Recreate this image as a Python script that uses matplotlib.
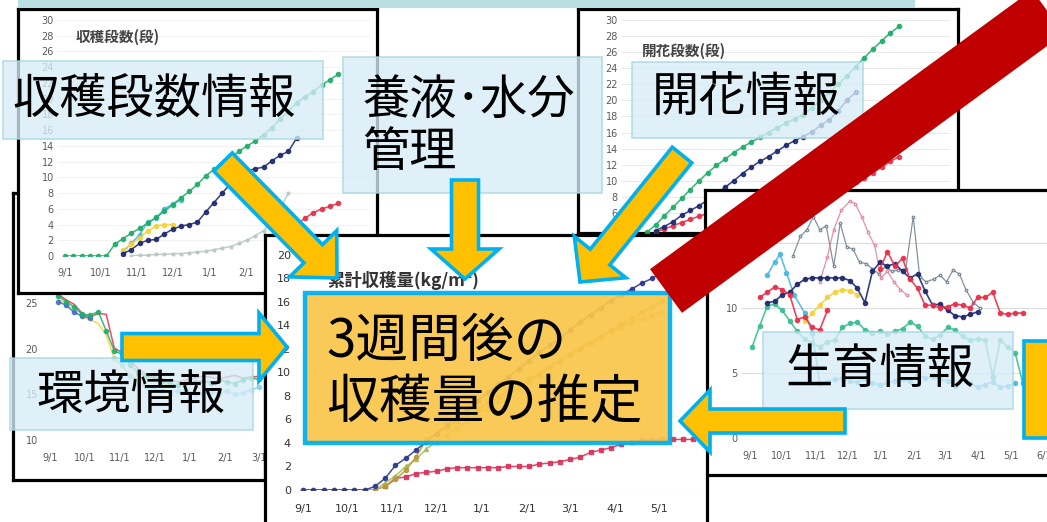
import numpy as np
import pandas as pd
import matplotlib
matplotlib.use("Agg")
import matplotlib.pyplot as plt
from matplotlib.patches import Rectangle, FancyArrow

W, H = 1047, 522
JP = ["Noto Sans CJK JP", "DejaVu Sans"]
plt.rcParams["font.family"] = JP

# ─────────────────────────────────────────────────────────────────────────────
# Data (weekly records from 9/1; each series = first week index + values)
# ─────────────────────────────────────────────────────────────────────────────

SEASON_START = "2015-09-01"
MONTH_DATES = ["2015-09-01", "2015-10-01", "2015-11-01", "2015-12-01",
               "2016-01-01", "2016-02-01", "2016-03-01", "2016-04-01",
               "2016-05-01", "2016-06-01"]
MONTH_LABELS = ["9/1", "10/1", "11/1", "12/1", "1/1", "2/1", "3/1",
                "4/1", "5/1", "6/1"]

# harvested truss count (段)
harvest_green = (0, [0, 0, 0, 0, 0, 0, 1.5, 2.2, 2.9, 3.5, 4.2, 4.9, 5.7,
                     6.5, 7.4, 8.2, 9.1, 10.2, 11.0, 11.7, 12.4, 13.3, 14.0,
                     14.6, 15.4, 16.3, 17.4, 18.4, 19.5, 20.2, 20.9, 21.7,
                     22.4, 23.1])
harvest_navy = (7, [0.3, 0.8, 1.6, 2.0, 2.1, 2.8, 3.4, 3.8, 4.0, 4.3, 5.6,
                    6.8, 8.0, 9.2, 10.0, 10.8, 11.1, 11.3, 12.1, 12.8, 13.3,
                    15.0])
harvest_yellow = (7, [0.8, 1.5, 2.3, 3.2, 3.8, 4.0, 4.0])
harvest_cyan = (7, [0.5, 1.6, 2.7, 4.3, 4.8, 6.0, 6.6, 7.1])
harvest_pale = (8, [0.0, 0.1, 0.1, 0.2, 0.2, 0.3, 0.3, 0.4, 0.5, 0.6, 0.8,
                    1.0, 1.2, 1.6, 2.0, 2.6, 3.2, 4.5, 6.0, 8.0])
harvest_red = (26, [2.5, 3.3, 4.0, 4.8, 5.5, 6.0, 6.3, 6.7])

# flowering truss count (段)
flower_green = (2, [3.6, 4.5, 5.6, 6.7, 7.8, 8.9, 10.0, 11.0, 11.9, 12.7,
                    13.5, 14.2, 14.8, 15.4, 16.0, 16.6, 17.2, 17.7, 18.2,
                    19.1, 20.0, 21.0, 22.0, 23.0, 24.2, 25.3, 26.4, 27.4,
                    28.4, 29.2])
flower_navy = (3, [3.8, 4.3, 4.9, 5.7, 6.3, 6.9, 7.6, 8.3, 9.2, 10.0, 10.9,
                   11.7, 12.4, 13.0, 13.7, 14.4, 15.0, 15.5, 16.1, 16.9,
                   17.6, 18.7, 20.0, 21.0])
flower_red = (3, [3.6, 4.0, 4.4, 4.8, 5.2, 5.6, 5.9, 6.2, 6.5, 6.8, 7.0, 7.2,
                  7.4, 7.6, 7.8, 8.0, 8.2, 8.4, 8.6, 8.8, 9.0, 9.3, 9.6, 9.9,
                  10.3, 11.0, 11.7, 12.4, 13.0])

# growth readings (irregular sampling days from 9/1)
growth_red_days = [9, 16, 23, 30, 37, 44, 51, 58, 65, 72, 79,
                   121, 128, 135, 142, 149, 156, 163, 170, 177, 184, 191,
                   198, 205, 212, 219, 226, 233, 240, 247, 254]
growth_red = [10.8, 11.2, 11.6, 11.4, 11.0, 9.1, 9.3, 8.5, 8.3, 9.8, np.nan,
              13.0, 14.3, 13.2, 13.8, 12.2, 11.5, 10.2, 10.2, 10.0, 10.1,
              10.3, 10.2, 10.0, 10.8, 10.8, 11.2, 9.6, 9.5, 9.6, 9.6]
growth_navy_days = [16, 23, 30, 37, 44, 51, 58, 65, 72, 79, 86, 93, 100, 107,
                    114, 121, 128, 135, 142, 149, 156, 163, 170, 177, 184,
                    191, 198, 205, 212]
growth_navy = [10.4, 10.5, 11.0, 11.2, 11.8, 12.2, 12.3, 12.3, 12.3, 12.3,
               12.3, 12.1, 11.5, 10.4, 12.8, 13.5, 13.2, 13.4, 12.8, 12.3,
               12.6, 11.3, 10.2, 10.3, 9.8, 9.4, 9.3, 9.5, 9.7]
growth_teal_days = [2, 9, 16, 23, 30, 37, 44, 51, 58, 65, 72, 79, 86, 93, 100,
                    107, 114, 121, 128, 135, 142, 149, 156, 163, 170, 177,
                    184, 191, 198, 205, 212, 219, 226, 233, 240, 247, 254]
growth_teal = [7.0, 8.6, 10.1, 10.3, 9.8, 9.0, 8.2, 7.6, 7.3, 7.0, 7.4, 7.5,
               8.5, 8.8, 8.9, 8.3, 8.1, 8.2, 8.0, 8.2, 8.4, 8.9, 8.6, 7.8,
               7.6, 7.9, 8.5, 8.3, 7.8, 7.5, 7.6, 7.5, 4.7, 7.5, 7.0, 6.5,
               4.2]
growth_cyan_days = [16, 23, 28, 34, 41, 51, 58, 65, 72, 79, 86, 93, 100, 107,
                    114, 121, 128, 135, 142, 149, 156, 163, 170, 177, 184,
                    191, 198, 205, 212, 219, 226, 233, 240, 247]
growth_cyan = [12.5, 13.5, 14.1, 12.7, 11.0, 9.6, 8.1, 4.2, 4.3, 4.5, 4.6,
               4.4, 4.3, 4.6, 4.2, 4.1, 4.2, 4.4, 4.5, 4.4, 4.9, 4.6, 4.7,
               4.5, 4.4, 4.0, 4.7, 4.2, 3.9, 4.1, 4.3, 3.9, 4.0, 4.2]
growth_yellow_days = [51, 58, 65, 72, 79, 86, 93, 100]
growth_yellow = [9.0, 9.6, 10.2, 10.8, 11.2, 11.4, 11.3, 11.0]
growth_pink_days = [65, 72, 78, 85, 93, 98, 104, 110, 116, 122, 128, 134, 140,
                    146]
growth_pink = [12.0, 13.9, 16.0, 17.5, 18.2, 18.0, 17.0, 15.8, 14.8, 12.3,
               12.8, 12.0, 11.4, 11.0]
growth_gray_days = [40, 47, 53, 59, 65, 71, 78, 84, 90, 96, 102, 108, 114,
                    120, 126, 132, 138, 145, 152, 158, 164, 171, 177, 183,
                    189, 195, 201, 208, 214]
growth_gray = [14.0, 15.5, 16.0, 17.0, 16.0, 16.3, 13.2, 16.5, 14.7, 14.5,
               13.5, 13.4, 13.0, 12.6, 13.2, 12.8, 12.9, 13.0, 17.0, 12.4,
               12.0, 12.2, 12.5, 12.0, 12.9, 12.6, 11.4, 10.4, 10.0]

# greenhouse temperature (℃)
env_green = (1, [25.8, 25.2, 24.6, 23.8, 23.7, 24.1, 22.0, 19.8, 19.4, 18.2,
                 17.4, 17.0, 16.8, 16.5, 16.2, 16.0, 16.3, 16.4, 16.5, 16.3,
                 16.6, 16.4, 16.2, 16.6, 16.8, 16.7])
env_red = (1, [26.0, 25.4, 24.9, 23.9, 23.5, 23.9, 23.8, 20.1, 19.6, 18.7,
               17.8, 17.2, 16.9, 16.7, 16.5, 16.4, 16.6, 16.8, 17.0, 16.9,
               16.7, 16.9, 17.1, 16.8, 16.9, 17.0])
env_yellow = (1, [25.5, 25.0, 24.2, 23.5, 23.2, 22.8, 21.5, 19.0, 18.0, 17.2,
                  16.5, 16.0, 15.8, 16.0, 16.2])
env_cyan = (8, [19.0, 18.2, 17.0, 16.2, 15.8, 15.5, 15.4, 15.3, 15.4, 15.5,
                15.0, 15.2, 15.3, 15.1, 15.4, 15.0, 15.2, 15.5, 15.8])
env_blue = (1, [25.2, 24.8, 24.0, 23.6, 23.4])

# cumulative yield (kg/m²)
yield_navy = (0, [0, 0, 0, 0, 0, 0, 0, 0.3, 1.0, 2.1, 2.7, 3.4, 4.1, 4.8, 5.5,
                  6.2, 6.9, 7.6, 8.3, 9.0, 9.6, 10.3, 11.0, 11.7, 12.3, 12.9,
                  13.6, 14.3, 14.9, 15.5, 16.1, 16.6, 17.1, 17.6, 18.0, 18.5])
yield_tan = (0, [0, 0, 0, 0, 0, 0, 0, 0, 0.3, 0.9, 1.7, 2.8, 4.3, 4.8, 5.3,
                 5.9, 6.4, 6.9, 7.4, 7.9, 8.4, 8.9, 9.4, 9.9, 10.5, 11.0, 11.5,
                 12.0, 12.5, 13.0, 13.6, 14.1, 14.6, 15.1, 15.6, 16.1])
yield_olive = (0, [0, 0, 0, 0, 0, 0, 0, 0, 0.6, 1.2, 2.0, 2.6, 3.5, 4.1, 4.7,
                   5.3, 5.9, 6.5, 7.0, 7.6, 8.1, 8.7, 9.3, 9.9, 10.5, 11.0,
                   11.6, 12.1, 12.6, 13.1, 13.5, 13.9, 14.3, 14.6, 14.9, 15.1])
yield_red = (8, [0.3, 1.0, 1.1, 1.4, 1.5, 1.6, 1.8, 1.9, 1.9, 1.9, 1.9, 1.9,
                 2.0, 2.0, 2.0, 2.2, 2.3, 2.4, 2.6, 2.8, 3.2, 3.4, 3.6, 3.9,
                 4.1, 4.25, 4.25, 4.3, 4.3, 4.3, 4.3])

# ─────────────────────────────────────────────────────────────────────────────
# Helpers
# ─────────────────────────────────────────────────────────────────────────────

start = pd.Timestamp(SEASON_START)
month_days = np.asarray((pd.to_datetime(MONTH_DATES) - start).days)


def weekly(series):
    first, vals = series
    days = 7 * (first + np.arange(len(vals)))
    return days, np.asarray(vals, dtype=float)


def px_rect(x0, y0, x1, y1):
    return [x0 / W, 1 - y1 / H, (x1 - x0) / W, (y1 - y0) / H]


def add_frame(fig, box, z):
    ax = fig.add_axes(px_rect(*box), zorder=z)
    ax.set_xticks([])
    ax.set_yticks([])
    ax.set_facecolor("white")
    for s in ax.spines.values():
        s.set_linewidth(2.3)
        s.set_color("black")
    return ax


def add_plot(fig, box, z, xlim, ylim, size=7):
    ax = fig.add_axes(px_rect(*box), zorder=z)
    ax.patch.set_visible(False)
    for s in ax.spines.values():
        s.set_visible(False)
    ax.set_xlim(xlim)
    ax.set_ylim(ylim)
    ax.tick_params(length=0, labelsize=size, labelcolor="#5a5a5a", pad=3)
    for lab in ax.get_xticklabels() + ax.get_yticklabels():
        lab.set_family("DejaVu Sans")
    return ax


def month_axis(ax, n, pad=6):
    ax.set_xticks(month_days[:n])
    ax.set_xticklabels(MONTH_LABELS[:n], family="DejaVu Sans")
    ax.tick_params(axis="x", pad=pad)


def dots(ax, series, color, ms=3.0, marker="o", lw=1.1, alpha=0.9):
    x, y = weekly(series)
    ax.plot(x, y, color=color, lw=lw, marker=marker, ms=ms, alpha=alpha,
            mec=color)


NAVY = "#1f2a6e"
GREEN = "#1fae6a"
RED = "#e8304a"
CYAN = "#4fb8e0"
YELLOW = "#f5d23a"
ORANGE = "#FFC000"
BLUE = "#00B0F0"

fig = plt.figure(figsize=(W / 100, H / 100), dpi=100)
fig.patch.set_facecolor("white")

# ─────────────────────────────────────────────────────────────────────────────
# Environment panel (behind)
# ─────────────────────────────────────────────────────────────────────────────
add_frame(fig, (13, 193, 265, 480), 1)
ax = add_plot(fig, (42, 205, 300, 440), 2, (-7, 218), (10, 35.8))
ax.set_yticks([10, 15, 20, 25, 30, 35])
month_axis(ax, 7, pad=9)
for s, c, m in [(env_cyan, "#7fd3e8", "o"), (env_yellow, YELLOW, None),
                (env_blue, "#3d6fd0", "o"), (env_red, RED, None),
                (env_green, GREEN, "o")]:
    x, y = weekly(s)
    ax.plot(x, y, color=c, lw=1.1, marker=m, ms=3, alpha=0.85)

# ─────────────────────────────────────────────────────────────────────────────
# Harvested trusses panel
# ─────────────────────────────────────────────────────────────────────────────
add_frame(fig, (18, 9, 377, 293), 3)
ax = add_plot(fig, (58, 20, 370, 256), 4, (-6, 258), (0, 30))
ax.set_yticks(range(0, 31, 2))
month_axis(ax, 7, pad=9)
ax.grid(axis="y", color="#f0f0f0", lw=0.6)
ax.set_axisbelow(True)
dots(ax, harvest_pale, "#b9c9c2", ms=2)
dots(ax, harvest_cyan, CYAN)
dots(ax, harvest_yellow, YELLOW)
dots(ax, harvest_red, RED)
dots(ax, harvest_navy, NAVY)
dots(ax, harvest_green, GREEN)
ax.text(0.055, 0.93, "収穫段数(段)", transform=ax.transAxes, fontsize=10.5,
        weight="bold", color="#444444", va="center")

# ─────────────────────────────────────────────────────────────────────────────
# Flowering trusses panel
# ─────────────────────────────────────────────────────────────────────────────
add_frame(fig, (578, 9, 958, 233), 5)
ax = add_plot(fig, (622, 20, 950, 233), 6, (-6, 258), (3.5, 30))
ax.set_yticks(range(6, 31, 2))
ax.set_xticks([])
ax.grid(axis="y", color="#e9e9e9", lw=0.7)
ax.set_axisbelow(True)
dots(ax, flower_red, RED)
dots(ax, flower_navy, NAVY)
dots(ax, flower_green, GREEN)
ax.text(0.06, 0.855, "開花段数(段)", transform=ax.transAxes, fontsize=10.5,
        weight="bold", color="#444444", va="center")

# ─────────────────────────────────────────────────────────────────────────────
# Growth panel
# ─────────────────────────────────────────────────────────────────────────────
add_frame(fig, (705, 190, 1080, 475), 7)
ax = add_plot(fig, (742, 192, 1060, 438), 8, (-7.4, 288.6), (0, 18.9))
ax.set_yticks([0, 5, 10, 15])
month_axis(ax, 10, pad=9)
ax.grid(axis="y", color="#dcdcdc", lw=0.8)
ax.set_axisbelow(True)
thin = [(growth_gray_days, growth_gray, "#6f7f8f"),
        (growth_pink_days, growth_pink, "#e07f95")]
for d, v, c in thin:
    ax.plot(d, v, color=c, lw=0.9, marker="o", ms=1.8, alpha=0.85,
            mfc="white")
thick = [(growth_cyan_days, growth_cyan, CYAN),
         (growth_teal_days, growth_teal, "#3cbf93"),
         (growth_yellow_days, growth_yellow, YELLOW),
         (growth_navy_days, growth_navy, NAVY),
         (growth_red_days, growth_red, RED)]
for d, v, c in thick:
    ax.plot(d, v, color=c, lw=1.2, marker="o", ms=3, alpha=0.9)

# ─────────────────────────────────────────────────────────────────────────────
# Cumulative yield panel
# ─────────────────────────────────────────────────────────────────────────────
add_frame(fig, (265, 235, 707, 560), 9)
ax = add_plot(fig, (295, 249, 700, 490), 10, (-5.5, 270.6), (0, 20.5),
              size=8)
ax.set_yticks(range(0, 21, 2))
month_axis(ax, 9, pad=10)
ax.tick_params(labelcolor="#333333")
ax.axhline(0, xmin=0.33, color="#d0d0d0", lw=0.8)
dots(ax, yield_red, "#d9345a", marker="s", ms=3.2)
dots(ax, yield_olive, "#a8bf5a", marker="^", ms=3)
dots(ax, yield_tan, "#b89a3a", marker="o", ms=3)
dots(ax, yield_navy, "#2b3a8f", marker="o", ms=3)
ax.text(0.08, 0.87, "累計収穫量(kg/m²)", transform=ax.transAxes,
        fontsize=12.5, weight="bold", color="#333333", va="center")

# ─────────────────────────────────────────────────────────────────────────────
# Overlay: band, labels, arrows
# ─────────────────────────────────────────────────────────────────────────────
ov = fig.add_axes([0, 0, 1, 1], zorder=50)
ov.set_xlim(0, W)
ov.set_ylim(H, 0)
ov.axis("off")

ov.add_patch(Rectangle((18, 0), 897, 8, color="#b9dfe2", lw=0, zorder=1))


def label(x0, y0, x1, y1, text, tx, ty, ha="center", ls=1.0):
    ov.add_patch(Rectangle((x0, y0), x1 - x0, y1 - y0, fc="#d6ecf8",
                           ec="#a6d6dc", lw=1.2, alpha=0.78, zorder=2))
    ov.text(tx, ty, text, fontsize=34, ha=ha, va="center", color="black",
            linespacing=ls, zorder=3)


label(3, 61, 323, 139, "収穫段数情報", 154, 99)
label(343, 57, 602, 193, "養液･水分\n管理", 362, 127, ha="left", ls=1.1)
label(632, 62, 863, 138, "開花情報", 746, 99)
label(763, 332, 1013, 409, "生育情報", 880, 370)
label(10, 358, 253, 430, "環境情報", 131, 396)

# main estimate box
ov.add_patch(Rectangle((305, 293), 365, 150, fc="#f9c64a", ec=BLUE, lw=3.2,
                       alpha=0.93, zorder=4))
ov.text(326, 372, "3週間後の\n収穫量の推定", fontsize=38, ha="left",
        va="center", color="black", linespacing=1.15, zorder=5)

arrow_kw = dict(fc=ORANGE, ec=BLUE, lw=2.6, length_includes_head=True,
                joinstyle="miter", zorder=6)
# (tail x, tail y, tip x, tip y, shaft width, head width, head length)
arrows = [
    (223, 162, 337, 278, 26, 66, 34),
    (465, 180, 465, 279, 27, 68, 30),
    (682, 155, 580, 282, 25, 66, 32),
    (122, 347, 287, 347, 27, 68, 28),
    (845, 421, 680, 421, 24, 62, 30),
]
for x0, y0, x1, y1, w, hw, hl in arrows:
    ov.add_patch(FancyArrow(x0, y0, x1 - x0, y1 - y0, width=w,
                            head_width=hw, head_length=hl, **arrow_kw))
ov.add_patch(Rectangle((1024, 341), 40, 97, fc=ORANGE, ec=BLUE, lw=2.6,
                       zorder=6))

# red diagonal band
ov.plot([666, 1160], [291, -70], color="#c00000", lw=39,
        solid_capstyle="butt", zorder=7)

fig.savefig("out.png", dpi=100)
